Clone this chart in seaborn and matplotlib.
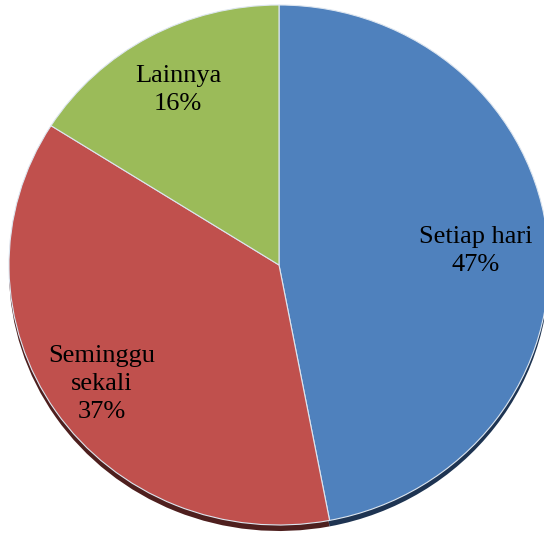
import matplotlib
matplotlib.use("Agg")
import matplotlib.pyplot as plt
import seaborn as sns

categories = ["Setiap hari", "Seminggu\nsekali", "Lainnya"]
values = [47, 37, 16]
colors = ["#4F81BD", "#C0504D", "#9BBB59"]
shadow_colors = ["#1E3452", "#4E1F1E", "#3F4D24"]
# label centres in pixels (x from left, y from top)
label_pos = [(476, 251), (102, 384), (178, 90)]

sns.set_theme(style="white")
plt.rcParams["font.family"] = ["Liberation Serif", "DejaVu Serif"]

W, H = 544, 536
fig = plt.figure(figsize=(W / 100, H / 100), dpi=100)
ax = fig.add_axes([0, 0, 1, 1])

cx, cy, rx, ry = 279, 265, 270, 260

# shadow / thickness
ax.pie(values, colors=shadow_colors, startangle=90, counterclock=False,
       center=(0, -6 / ry), radius=1.0,
       wedgeprops=dict(linewidth=0))
ax.pie(values, colors=colors, startangle=90, counterclock=False,
       radius=1.0, wedgeprops=dict(edgecolor="#DDE6F0", linewidth=0.8))

ax.set_aspect("auto")
ax.set_xlim(-cx / rx, (W - cx) / rx)
ax.set_ylim((cy - H) / ry, cy / ry)
ax.axis("off")

for name, v, (px, py) in zip(categories, values, label_pos):
    ax.text((px - cx) / rx, (cy - py) / ry, f"{name}\n{v}%", ha="center",
            va="center", fontsize=19, color="black", linespacing=1.33)

fig.savefig("out.png", dpi=100, facecolor="white")
